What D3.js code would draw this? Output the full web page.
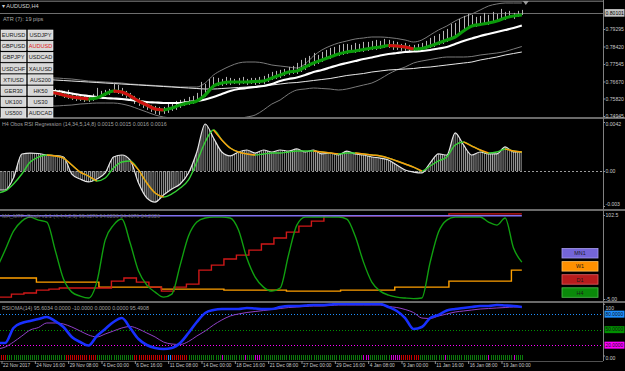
<!DOCTYPE html>
<html>
<head>
<meta charset="utf-8">
<script src="https://cdn.jsdelivr.net/npm/d3@7"></script>
<style>
  body { margin: 0; background: #000; }
  svg { display: block; font-family: "Liberation Sans", Arial, sans-serif; }
</style>
</head>
<body>
<svg id="chart" width="625" height="371"></svg>
<script>
// ---- data ----
var xLabels = ["22 Nov 2017", "24 Nov 16:00", "29 Nov 08:00", "4 Dec 00:00", "6 Dec 16:00", "11 Dec 08:00",
  "14 Dec 00:00", "18 Dec 16:00", "21 Dec 08:00", "27 Dec 00:00", "29 Dec 16:00", "4 Jan 08:00",
  "9 Jan 00:00", "11 Jan 16:00", "16 Jan 08:00", "19 Jan 00:00"];
var labelEvery = 16, lastBar = 250;

var priceTicks = [0.79295, 0.78420, 0.77545, 0.76670, 0.75820, 0.74945];
var lastPrice = 0.80101;
var symbols = [["EURUSD", "USDJPY"], ["GBPUSD", "AUDUSD"], ["GBPJPY", "USDCAD"], ["USDCHF", "XAUUSD"],
  ["XTIUSD", "AUS200"], ["GER30", "HK50"], ["UK100", "US30"], ["US500", "AUDCAD"]];
var activeSymbol = "AUDUSD";

// main window lines, one value every 4 bars starting at bar 22
var mainStart = 22, mainStep = 4;
var hma = [0.76145,0.76095,0.75995,0.75895,0.75845,0.75795,0.75845,0.76045,0.76195,0.76145,
  0.75945,0.75695,0.75495,0.75295,0.75245,0.75345,0.75495,0.75595,0.75695,0.75995,
  0.76445,0.76595,0.76645,0.76645,0.76645,0.7667,0.76695,0.76845,0.76995,0.77145,
  0.77195,0.77395,0.77595,0.77745,0.77895,0.78045,0.78145,0.78195,0.7827,0.78345,
  0.78395,0.7847,0.78445,0.78395,0.78295,0.7832,0.78445,0.78595,0.78745,0.78895,
  0.79195,0.79445,0.7952,0.79595,0.79695,0.79845,0.79945,0.79995];
var emaFast = [0.76195,0.76195,0.76145,0.7607,0.75995,0.75945,0.75895,0.75845,0.7582,0.75795,
  0.75745,0.75695,0.75645,0.7562,0.75595,0.75595,0.75595,0.75645,0.75695,0.7577,
  0.75895,0.76045,0.76195,0.76295,0.76345,0.76395,0.76445,0.76545,0.76695,0.76795,
  0.7687,0.76995,0.77145,0.77245,0.7737,0.77495,0.77595,0.77695,0.77795,0.7787,
  0.7797,0.78045,0.78095,0.78145,0.7817,0.78195,0.78245,0.7832,0.78395,0.78545,
  0.78695,0.7882,0.78945,0.79045,0.79145,0.79245,0.79345,0.7947];
var maSlow = [0.7677,0.76745,0.7672,0.76695,0.7667,0.76645,0.7662,0.76595,0.7657,0.76545,
  0.7652,0.76495,0.7647,0.76445,0.7642,0.76395,0.7637,0.76345,0.7632,0.76295,
  0.76295,0.7632,0.76345,0.7637,0.76395,0.7642,0.76445,0.76495,0.76545,0.76595,
  0.7662,0.7667,0.7672,0.7677,0.7682,0.76895,0.7697,0.7702,0.7707,0.77145,
  0.77195,0.77245,0.7727,0.77295,0.7732,0.7737,0.77395,0.77445,0.77495,0.77545,
  0.77595,0.77645,0.77745,0.7782,0.77895,0.77995,0.7807,0.78145];
var bandUp = [0.76845,0.76845,0.7682,0.76795,0.76745,0.76695,0.7667,0.76645,0.7662,0.76595,
  0.76545,0.7652,0.76495,0.7647,0.76445,0.7642,0.76395,0.76395,0.76395,0.76595,
  0.76995,0.77245,0.77445,0.77595,0.77645,0.77645,0.77595,0.77495,0.77445,0.77395,
  0.77345,0.77545,0.77945,0.78245,0.78445,0.78595,0.78695,0.78795,0.78845,0.78895,
  0.78895,0.7887,0.7882,0.78745,0.78645,0.78745,0.78995,0.79245,0.79445,0.79695,
  0.79895,0.80045,0.80245,0.80445,0.80545,0.80595,0.80595,0.80595];
var bandLo = [0.75445,0.75445,0.7547,0.75495,0.75545,0.7557,0.75595,0.75595,0.75595,0.75545,
  0.75445,0.75295,0.75145,0.74995,0.74895,0.74845,0.7482,0.74795,0.74795,0.74795,
  0.74795,0.74795,0.74795,0.7482,0.74895,0.74995,0.75245,0.75545,0.75745,0.76045,
  0.76245,0.76295,0.76345,0.7632,0.76295,0.76245,0.76295,0.76395,0.76495,0.76595,
  0.76795,0.77045,0.77245,0.77395,0.77595,0.77695,0.7777,0.77845,0.77895,0.77895,
  0.77895,0.7792,0.77995,0.78045,0.78095,0.7817,0.78295,0.7842];

// price bars, one every 2 bars starting at bar 26
var barStart = 26, barStep = 2;
var barHigh = [.7630,.7625,.7620,.7625,.7610,.7605,.7600,.7595,.7595,.7605,
  .7635,.7620,.7625,.7630,.7660,.7650,.7635,.7620,.7610,.7595,
  .7585,.7570,.7560,.7550,.7545,.7540,.7540,.7555,.7560,.7570,
  .7575,.7580,.7590,.7595,.7610,.7665,.7655,.7680,.7690,.7685,
  .7680,.7690,.7685,.7680,.7685,.7690,.7680,.7685,.7685,.7690,
  .7695,.7705,.7715,.7720,.7725,.7730,.7740,.7745,.7760,.7775,
  .7785,.7795,.7810,.7800,.7815,.7825,.7835,.7840,.7850,.7855,
  .7855,.7850,.7860,.7855,.7865,.7865,.7870,.7875,.7870,.7880,
  .7875,.7870,.7865,.7855,.7860,.7850,.7850,.7855,.7860,.7870,
  .7885,.7895,.7905,.7920,.7930,.7955,.7960,.7980,.7995,.8005,
  .8000,.7990,.7995,.8010,.8000,.8015,.8005,.8030,.8015,.8020,
  .8010,.8020,.8025];
var barLow = [.7590,.7595,.7585,.7580,.7575,.7570,.7570,.7565,.7565,.7570,
  .7580,.7585,.7595,.7600,.7610,.7605,.7595,.7585,.7570,.7555,
  .7545,.7535,.7525,.7515,.7505,.7500,.7505,.7510,.7520,.7525,
  .7535,.7545,.7550,.7555,.7565,.7585,.7590,.7615,.7635,.7645,
  .7645,.7650,.7650,.7655,.7650,.7655,.7650,.7655,.7650,.7655,
  .7655,.7665,.7675,.7680,.7685,.7695,.7700,.7705,.7705,.7715,
  .7725,.7740,.7745,.7755,.7765,.7775,.7780,.7790,.7795,.7800,
  .7805,.7810,.7810,.7815,.7815,.7820,.7825,.7825,.7830,.7835,
  .7835,.7825,.7825,.7820,.7820,.7815,.7815,.7820,.7825,.7830,
  .7835,.7840,.7850,.7855,.7865,.7875,.7885,.7905,.7920,.7935,
  .7940,.7940,.7945,.7950,.7950,.7960,.7965,.7975,.7975,.7985,
  .7980,.7990,.8000];

// sub windows, one value every 4 bars starting at bar -2
var subStart = -2, subStep = 4;
var obosMain = [-0.00163,-0.00163,-0.00060,0.00146,0.00154,0.00150,0.00137,0.00133,0.00120,-0.00026,
  -0.00069,-0.00094,-0.00069,-0.00017,0.00120,0.00137,0.00094,-0.00103,-0.00231,-0.00266,
  -0.00206,-0.00154,-0.00111,-0.00017,0.00163,0.00403,0.00283,0.00163,0.00129,0.00163,
  0.00180,0.00154,0.00180,0.00163,0.00180,0.00171,0.00189,0.00163,0.00180,0.00146,
  0.00154,0.00137,0.00171,0.00146,0.00137,0.00120,0.00111,0.00094,0.00051,0.00009,
  -0.00009,-0.00017,0.00069,0.00146,0.00137,0.00326,0.00223,0.00137,0.00163,0.00146,
  0.00146,0.00206,0.00163,0.00163];
var obosSignal = [-0.00189,-0.00171,-0.00111,-0.00026,0.00077,0.00120,0.00137,0.00129,0.00111,0.00051,
  -0.00009,-0.00043,-0.00086,-0.00060,0.00026,0.00077,0.00086,0.00009,-0.00103,-0.00189,
  -0.00223,-0.00197,-0.00146,-0.00077,0.00077,0.00249,0.00351,0.00266,0.00197,0.00163,
  0.00146,0.00137,0.00146,0.00154,0.00154,0.00163,0.00171,0.00171,0.00171,0.00163,
  0.00154,0.00146,0.00154,0.00154,0.00146,0.00137,0.00129,0.00111,0.00086,0.00060,
  0.00034,0.00000,0.00043,0.00086,0.00120,0.00223,0.00249,0.00214,0.00180,0.00154,
  0.00163,0.00189,0.00171,0.00163];
var obosTicks = [0.0042, 0, -0.003];
var obosTickText = ["0.0042", "0.00", "-0.003"];

var mtfH4 = [34.6,57.6,81.9,94.7,99.8,96.0,93.4,57.6,20.5,3.8,
  -1.3,-3.8,16.6,70.4,89.6,97.3,66.6,30.7,12.8,3.8,
  -2.6,1.3,38.4,75.5,93.4,98.6,99.8,99.8,98.6,83.2,
  47.4,23.0,10.2,5.1,9.0,51.2,89.6,99.8,100,100,
  99.8,100,97.3,75.5,42.2,16.6,5.1,0,-2.6,-3.8,
  -4.5,-3.8,42.2,80.6,96.0,99.8,100,100,100,93.4,
  89.6,98.6,60.2,42.2];
// [bar where the value changes, value]
var mtfD1 = [[-2,-2.6],[5,1.3],[11,2.6],[17,6.4],[23,7.7],[28,9.0],[53,17.9],[59,21.8],[65,16.6],[71,10.2],
  [77,5.1],[83,10.2],[89,14.1],[95,32.0],[101,38.4],[107,46.1],[113,51.2],[119,57.6],[125,65.3],[131,73.0],
  [137,80.6],[143,88.3],[149,94.7],[155,101.5],[215,104.0]];
var mtfW1 = [[-2,21.8],[17,16.6],[47,10.2],[77,7.7],[107,6.4],[137,5.1],[163,6.4],[189,10.2],[215,17.9],[245,32.0]];
var mtfMN1 = [[-2,101.5]];
var mtfTicks = [102.5, -5];
var mtfTickText = ["102.5", "-5.00"];
var mtfLegend = ["MN1", "W1", "D1", "H4"];

var rsiMain = [24.2,24.2,53.2,62.9,66.7,70.6,74.5,66.7,55.1,35.8,
  26.1,19.3,37.7,51.3,64.8,72.5,53.2,31.9,20.3,14.5,
  12.6,14.5,24.2,43.5,64.8,82.2,88.0,89.9,89.9,89.9,
  91.9,90.9,89.9,89.9,93.8,95.7,95.7,96.7,97.7,97.7,
  98.6,99.6,99.6,99.6,99.6,99.6,99.6,93.8,86.1,72.5,
  51.3,55.1,72.5,78.3,87.0,89.9,91.9,93.8,95.7,95.7,
  97.7,96.7,95.7,93.8];
var rsiSignal = [12.6,16.4,26.1,37.7,49.3,54.2,62.9,62.9,60.9,55.1,
  47.4,39.7,35.8,41.6,47.4,53.2,56.1,51.3,43.5,35.8,
  26.1,22.2,21.3,27.1,37.7,47.4,59.0,68.7,76.4,80.3,
  83.2,85.1,87.0,89.0,90.9,92.8,93.8,94.8,95.7,95.7,
  96.7,97.7,97.7,97.7,97.7,97.7,97.7,94.8,92.8,89.0,
  83.2,72.5,71.6,76.4,80.3,84.1,86.1,88.0,89.9,90.9,
  91.9,92.8,93.8,93.8];
var rsiLevels = [80, 50, 20];
var rsiTicks = [100, 0];
var rsiTickText = ["100", "0.00"];
// [first bar, last bar, state]
var rsiState = [[0,3,"dn"],[3,30,"up"],[31,46,"dn"],[46,63,"up"],[64,79,"dn"],[80,81,"os"],[82,89,"dn"],
  [90,105,"up"],[106,106,"ob"],[107,116,"up"],[117,117,"ob"],[118,121,"up"],[122,124,"ob"],[125,173,"up"],
  [174,176,"ob"],[177,186,"up"],[187,191,"ob"],[192,200,"dn"],[201,212,"up"],[213,213,"ob"],[214,233,"up"],
  [234,234,"ob"],[235,245,"up"],[246,246,"ob"],[247,250,"up"]];

// ---- drawing ----
var svg = d3.select("#chart"),
    axisX = 603,
    x = d3.scaleLinear().domain([0, 240]).range([1, 501]),
    barW = x(1) - x(0),
    tickFont = 5.1;

var yMain = d3.scaleLinear().domain([0.74945, 0.79295]).range([116, 29]),
    yObos = d3.scaleLinear().domain([-0.003, 0.0042]).range([206, 122]),
    yMtf = d3.scaleLinear().domain([-5, 102.5]).range([299, 215]),
    yRsi = d3.scaleLinear().domain([0, 100]).range([355.5, 303.8]);

var panels = [
  {id: "main", top: 2, bottom: 117},
  {id: "obos", top: 119, bottom: 209},
  {id: "mtf", top: 211, bottom: 301},
  {id: "rsi", top: 303, bottom: 361}
];

svg.append("rect").attr("width", 625).attr("height", 371).attr("fill", "#000");
var defs = svg.append("defs");
panels.forEach(function(p) {
  defs.append("clipPath").attr("id", "clip-" + p.id)
    .append("rect").attr("x", 0).attr("y", p.top).attr("width", axisX).attr("height", p.bottom - p.top);
});
defs.append("pattern").attr("id", "hist").attr("patternUnits", "userSpaceOnUse")
    .attr("x", x(0) - 0.5).attr("y", 0).attr("width", barW).attr("height", 400)
  .append("rect").attr("width", 1).attr("height", 400).attr("fill", "#a0a0a0");

function pts(arr, start, step) { return arr.map(function(v, i) { return [start + i * step, v]; }); }
function lineOf(y) {
  return d3.line().x(function(d) { return x(d[0]); }).y(function(d) { return y(d[1]); }).curve(d3.curveMonotoneX);
}
function stepsOf(list, y) {
  var p = list.slice(); p.push([lastBar, list[list.length - 1][1]]);
  return d3.line().x(function(d) { return x(d[0]); }).y(function(d) { return y(d[1]); }).curve(d3.curveStepAfter)(p);
}
// draw a line, recolouring the runs where it falls
function twoTone(g, data, y, upColor, downColor, width) {
  var gen = lineOf(y);
  g.append("path").attr("d", gen(data)).attr("fill", "none").attr("stroke", upColor).attr("stroke-width", width);
  var run = null;
  for (var i = 1; i < data.length; i++) {
    if (data[i][1] < data[i - 1][1]) {
      if (!run) run = [data[i - 1]];
      run.push(data[i]);
    } else if (run) {
      g.append("path").attr("d", gen(run)).attr("fill", "none").attr("stroke", downColor).attr("stroke-width", width);
      run = null;
    }
  }
  if (run) g.append("path").attr("d", gen(run)).attr("fill", "none").attr("stroke", downColor).attr("stroke-width", width);
}

// frame and separators
svg.append("rect").attr("x", 0).attr("y", 0.5).attr("width", axisX).attr("height", 1.5).attr("fill", "#5a5a5a");
[117, 209, 301].forEach(function(y) {
  svg.append("rect").attr("x", 0).attr("y", y).attr("width", 625).attr("height", 2).attr("fill", "#6a6a6a");
});
svg.append("line").attr("x1", axisX + 0.5).attr("x2", axisX + 0.5).attr("y1", 0).attr("y2", 361)
  .attr("stroke", "#808080");
svg.append("line").attr("x1", 0).attr("x2", axisX).attr("y1", 361.5).attr("y2", 361.5).attr("stroke", "#505050");

// ---- main window ----
var gMain = svg.append("g").attr("clip-path", "url(#clip-main)");
gMain.append("line").attr("x1", 0).attr("x2", axisX).attr("y1", Math.round(yMain(lastPrice)) + 0.5)
  .attr("y2", Math.round(yMain(lastPrice)) + 0.5).attr("stroke", "#6e6e6e");

[bandUp, bandLo].forEach(function(s) {
  gMain.append("path").attr("d", lineOf(yMain)(pts(s, mainStart, mainStep)))
    .attr("fill", "none").attr("stroke", "#7a7a7a").attr("stroke-width", 1);
});
gMain.append("path").attr("d", lineOf(yMain)(pts(maSlow, mainStart, mainStep)))
  .attr("fill", "none").attr("stroke", "#e8e8e8").attr("stroke-width", 1);

gMain.selectAll(".bar").data(barHigh).enter().append("line")
  .attr("class", "bar")
  .attr("x1", function(d, i) { return Math.round(x(barStart + i * barStep)) + 0.5; })
  .attr("x2", function(d, i) { return Math.round(x(barStart + i * barStep)) + 0.5; })
  .attr("y1", function(d) { return yMain(d); })
  .attr("y2", function(d, i) { return yMain(barLow[i]); })
  .attr("stroke", "#b4b4b4").attr("stroke-width", 1);

gMain.append("path").attr("d", lineOf(yMain)(pts(emaFast, mainStart, mainStep)))
  .attr("fill", "none").attr("stroke", "#ffffff").attr("stroke-width", 2.2);
twoTone(gMain, pts(hma, mainStart, mainStep), yMain, "#0a9a0a", "#d01010", 3.2);

// shift marker
svg.append("path").attr("d", "M" + (x(lastBar) + 1) + ",1 l6,0 l-3,4 z").attr("fill", "#9a9a9a");

// symbol buttons
var btn = svg.append("g");
symbols.forEach(function(row, r) {
  row.forEach(function(s, c) {
    var bx = 1 + c * 27, by = 30 + r * 11.2;
    btn.append("rect").attr("x", bx).attr("y", by).attr("width", 25).attr("height", 9.4)
      .attr("fill", "#d8d8d8").attr("stroke", "#f4f4f4").attr("stroke-width", 0.6);
    btn.append("text").attr("x", bx + 12.5).attr("y", by + 6.9).attr("text-anchor", "middle")
      .attr("font-size", 5.6).attr("fill", s === activeSymbol ? "#e02020" : "#202020").text(s);
  });
});
svg.append("text").attr("x", 2).attr("y", 8).attr("font-size", 5.6).attr("fill", "#d0d0d0").text("\u25BE AUDUSD,H4");
svg.append("text").attr("x", 3).attr("y", 21).attr("font-size", 5.6).attr("fill", "#a8a8a8").text("ATR (7):   19 pips");

// ---- Obos RSI regression ----
var gObos = svg.append("g").attr("clip-path", "url(#clip-obos)");
var obosPts = pts(obosMain, subStart, subStep);
gObos.append("line").attr("x1", 0).attr("x2", axisX).attr("y1", Math.round(yObos(0)) + 0.5)
  .attr("y2", Math.round(yObos(0)) + 0.5).attr("stroke", "#9a9a9a").attr("stroke-dasharray", "2,2");
gObos.append("path")
  .attr("d", d3.area().x(function(d) { return x(d[0]); }).y0(yObos(0)).y1(function(d) { return yObos(d[1]); })
    .curve(d3.curveMonotoneX)(obosPts))
  .attr("fill", "url(#hist)");
gObos.append("path").attr("d", lineOf(yObos)(obosPts)).attr("fill", "none").attr("stroke", "#e6e6e6").attr("stroke-width", 1.2);
twoTone(gObos, pts(obosSignal, subStart, subStep), yObos, "#35d035", "#ff9a10", 1.4);
svg.append("text").attr("x", 2).attr("y", 126).attr("font-size", 5.3).attr("fill", "#a0a0a0")
  .text("H4 Obos RSI Regression (14,34,5,14,8) 0.0015 0.0015 0.0016 0.0016");

// ---- MTF window ----
var gMtf = svg.append("g").attr("clip-path", "url(#clip-mtf)");
gMtf.append("path").attr("d", stepsOf(mtfW1, yMtf)).attr("fill", "none").attr("stroke", "#ffa000").attr("stroke-width", 1.4);
gMtf.append("path").attr("d", stepsOf(mtfD1, yMtf)).attr("fill", "none").attr("stroke", "#d01818").attr("stroke-width", 1.4);
gMtf.append("path").attr("d", lineOf(yMtf)(pts(mtfH4, subStart, subStep))).attr("fill", "none")
  .attr("stroke", "#10a010").attr("stroke-width", 1.4);
gMtf.append("path").attr("d", stepsOf(mtfMN1, yMtf)).attr("fill", "none").attr("stroke", "#8070f0").attr("stroke-width", 1.4);
svg.append("text").attr("x", 2).attr("y", 218).attr("font-size", 5.3).attr("fill", "#6c6c6c")
  .text("MA_MTF_Stoch v1.1 (4,4,4,2,9) 99.6276 94.0256 34.4676 34.2326");

var legendFill = {MN1: "#7465d8", W1: "#ff9000", D1: "#b81c1c", H4: "#0a8a0a"},
    legendEdge = {MN1: "#a89cf0", W1: "#ffc060", D1: "#e06060", H4: "#50c050"};
mtfLegend.forEach(function(k, i) {
  var ly = 248.5 + i * 13.1;
  svg.append("rect").attr("x", 562).attr("y", ly).attr("width", 36).attr("height", 9.5)
    .attr("fill", legendFill[k]).attr("stroke", legendEdge[k]).attr("stroke-width", 0.8);
  svg.append("text").attr("x", 580).attr("y", ly + 6.8).attr("text-anchor", "middle").attr("font-size", 5.4)
    .attr("fill", "#1a1a1a").text(k);
});

// ---- RSIOMA ----
var gRsi = svg.append("g").attr("clip-path", "url(#clip-rsi)");
var levelColor = {80: "#1e90ff", 50: "#009000", 20: "#ff00ff"};
rsiLevels.forEach(function(v) {
  gRsi.append("line").attr("x1", 0).attr("x2", axisX).attr("y1", Math.round(yRsi(v)) + 0.5).attr("y2", Math.round(yRsi(v)) + 0.5)
    .attr("stroke", levelColor[v]).attr("stroke-dasharray", "1,2");
});
var stateColor = {up: "#0b7a0b", dn: "#c80000", ob: "#d000d0", os: "#2090ff"};
rsiState.forEach(function(s) {
  d3.range(s[0], s[1] + 1).forEach(function(b) {
    gRsi.append("rect").attr("x", Math.round(x(b))).attr("y", 355).attr("width", 1).attr("height", 5)
      .attr("fill", stateColor[s[2]]);
  });
});
gRsi.append("path").attr("d", lineOf(yRsi)(pts(rsiSignal, subStart, subStep))).attr("fill", "none")
  .attr("stroke", "#9040c8").attr("stroke-width", 1);
gRsi.append("path").attr("d", lineOf(yRsi)(pts(rsiMain, subStart, subStep))).attr("fill", "none")
  .attr("stroke", "#1830ff").attr("stroke-width", 2.6);
svg.append("text").attr("x", 2).attr("y", 310).attr("font-size", 5.3).attr("fill", "#a0a0a0")
  .text("RSIOMA(14) 95.6034 0.0000 -10.0000 0.0000 0.0000 95.4908");

// ---- axes ----
function rightAxis(y, values, texts, dyFix) {
  var g = svg.append("g").attr("transform", "translate(" + axisX + ",0)")
    .call(d3.axisRight(y).tickValues(values).tickSize(2).tickFormat(function(d, i) { return texts ? texts[i] : d.toFixed(5); }));
  g.select(".domain").remove();
  g.selectAll("line").attr("stroke", "#909090");
  g.selectAll("text").attr("fill", "#c8c8c8").attr("font-size", tickFont).attr("font-family", "Liberation Sans, Arial, sans-serif")
    .attr("x", 2.5).attr("dy", function(d, i) { return dyFix && dyFix[i] ? dyFix[i] : "0.32em"; });
  return g;
}
rightAxis(yMain, priceTicks);
rightAxis(yObos, obosTicks, obosTickText, [3.5, null, -0.5]);
rightAxis(yMtf, mtfTicks, mtfTickText);
rightAxis(yRsi, rsiTicks, rsiTickText, [5.5, 3.5]);

// last price box
svg.append("rect").attr("x", axisX + 1.5).attr("y", yMain(lastPrice) - 3.8).attr("width", 20).attr("height", 7.6).attr("fill", "#c4c4c4");
svg.append("text").attr("x", axisX + 2.5).attr("y", yMain(lastPrice) + 1.8).attr("font-size", tickFont).attr("fill", "#000").text(lastPrice.toFixed(5));
// level boxes
rsiLevels.forEach(function(v) {
  svg.append("rect").attr("x", axisX + 1.5).attr("y", yRsi(v) - 3.5).attr("width", 20).attr("height", 7).attr("fill", levelColor[v]);
  svg.append("text").attr("x", axisX + 2.5).attr("y", yRsi(v) + 1.8).attr("font-size", 4.9).attr("fill", "#101010").text(v.toFixed(4));
});

var gx = svg.append("g").attr("transform", "translate(0,361)")
  .call(d3.axisBottom(x).tickValues(d3.range(0, 241, labelEvery)).tickSize(3)
    .tickFormat(function(d, i) { return xLabels[i]; }));
gx.select(".domain").remove();
gx.selectAll("line").attr("stroke", "#909090").attr("transform", "translate(0.5,0)");
gx.selectAll("text").attr("text-anchor", "start").attr("x", 1.5).attr("y", 2.2).attr("dy", "0.71em")
  .attr("fill", "#c8c8c8").attr("font-size", 4.8).attr("font-family", "Liberation Sans, Arial, sans-serif");
</script>
</body>
</html>
